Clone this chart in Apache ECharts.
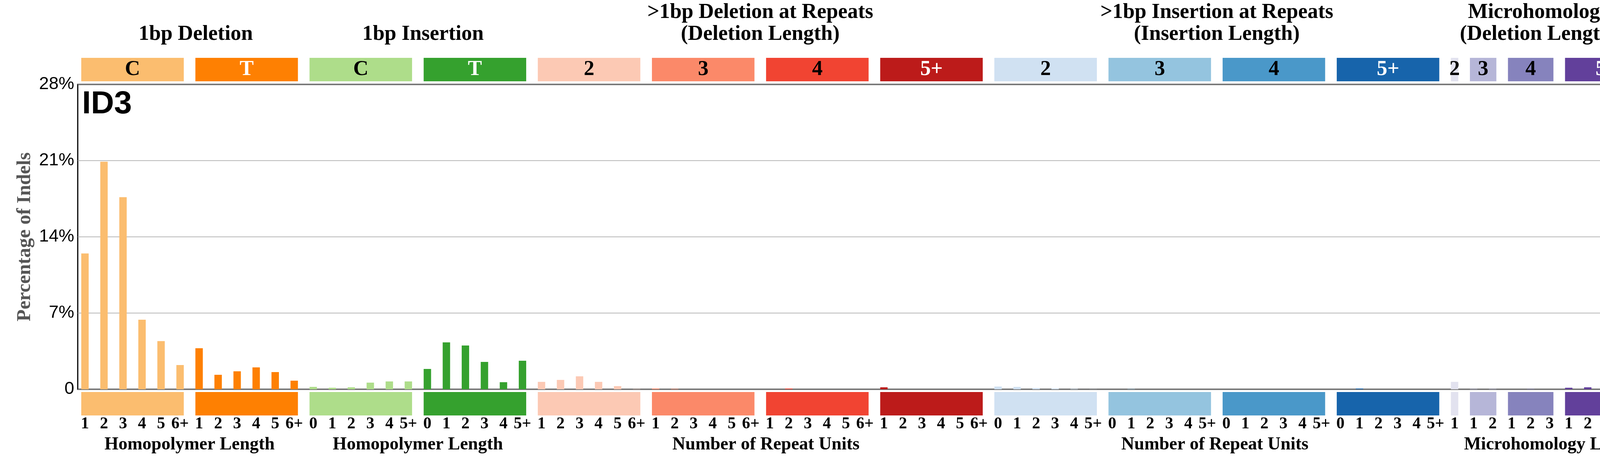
<!DOCTYPE html>
<html>
<head>
<meta charset="utf-8">
<script src="https://cdn.jsdelivr.net/npm/echarts@6/dist/echarts.min.js"></script>
<style>
html, body { margin: 0; padding: 0; background: #fff; }
#main { width: 4393px; height: 1200px; }
</style>
</head>
<body>
<div id="main"></div>
<script>
// ID3 indel profile, percent of indels per channel
var del1C = [12.47, 20.90, 17.64, 6.39, 4.42, 2.23];
var del1T = [3.77, 1.33, 1.65, 2.01, 1.58, 0.79];
var ins1C = [0.22, 0.14, 0.18, 0.61, 0.72, 0.72];
var ins1T = [1.87, 4.31, 4.02, 2.51, 0.65, 2.62];
var delRep2 = [0.68, 0.86, 1.19, 0.68, 0.29, 0.02];
var delRep3 = [0.07, 0.04, 0, 0, 0, 0];
var delRep4 = [0, 0.07, 0, 0, 0, 0];
var delRep5 = [0.18, 0, 0, 0, 0, 0];
var insRep2 = [0.25, 0.22, 0.11, 0.07, 0.04, 0.01];
var insRep3 = [0, 0.03, 0, 0, 0, 0];
var insRep4 = [0, 0, 0, 0, 0, 0];
var insRep5 = [0, 0.07, 0, 0, 0, 0];
var mh2 = [0.68];
var mh3 = [0.03, 0.03];
var mh4 = [0, 0.03, 0];
var mh5 = [0.14, 0.18, 0.07, 0.07, 0.04];

// tick labels
var hpDelTicks = ['1', '2', '3', '4', '5', '6+'];
var hpInsTicks = ['0', '1', '2', '3', '4', '5+'];
var mh2Ticks = ['1'];
var mh3Ticks = ['1', '2'];
var mh4Ticks = ['1', '2', '3'];
var mh5Ticks = ['1', '2', '3', '4', '5+'];
var yTicks = [0, 7, 14, 21, 28];

var subLabels = ['C', 'T', 'C', 'T', '2', '3', '4', '5+', '2', '3', '4', '5+', '2', '3', '4', '5+'];
var subValues = [del1C, del1T, ins1C, ins1T, delRep2, delRep3, delRep4, delRep5,
                 insRep2, insRep3, insRep4, insRep5, mh2, mh3, mh4, mh5];
var subTicks = [hpDelTicks, hpDelTicks, hpInsTicks, hpInsTicks,
                hpDelTicks, hpDelTicks, hpDelTicks, hpDelTicks,
                hpInsTicks, hpInsTicks, hpInsTicks, hpInsTicks,
                mh2Ticks, mh3Ticks, mh4Ticks, mh5Ticks];

var sectionTitles = ['1bp Deletion', '1bp Insertion', '>1bp Deletion at Repeats\n(Deletion Length)',
                     '>1bp Insertion at Repeats\n(Insertion Length)', 'Microhomology\n(Deletion Length)'];
var sectionAxisNames = ['Homopolymer Length', 'Homopolymer Length', 'Number of Repeat Units',
                        'Number of Repeat Units', 'Microhomology Length'];
var sectionSizes = [2, 2, 4, 4, 4];

// styles
var subColors = ['#FBBD6F', '#FE8002', '#AEDD8A', '#35A12E',
                 '#FCC9B4', '#FB8969', '#F14432', '#BC1B1A',
                 '#D0E1F2', '#94C4DF', '#4A98C9', '#1764AB',
                 '#E2E2EF', '#B6B6D8', '#8683BD', '#62409B'];
var subTextColors = ['#000', '#fff', '#000', '#fff',
                     '#000', '#000', '#000', '#fff',
                     '#000', '#000', '#000', '#fff',
                     '#000', '#000', '#000', '#fff'];
// small nudges of the section texts, in channel widths
var titleShift = [0.32, 0.27, 0, 0, -0.55];
var axisNameShift = [0, 0, 0.3, -0.1, 0.25];
var SERIF = '"Liberation Serif", "Times New Roman", serif';
var SANS = '"Liberation Sans", Arial, sans-serif';

// flatten
var channels = [];
var groups = [];
subValues.forEach(function (vals, g) {
    var start = channels.length;
    vals.forEach(function (v, j) {
        channels.push({ x: channels.length, v: v, color: subColors[g], tick: subTicks[g][j] });
    });
    groups.push({ start: start, end: channels.length - 1, label: subLabels[g],
                  color: subColors[g], textColor: subTextColors[g] });
});
var sections = [];
var gi = 0;
sectionSizes.forEach(function (n, s) {
    sections.push({ start: groups[gi].start, end: groups[gi + n - 1].end,
                    title: sectionTitles[s], axisName: sectionAxisNames[s] });
    gi += n;
});

var GRID = { left: 199, top: 216, width: 4040, height: 780 };
var X_MIN = -0.38, X_MAX = channels.length - 1 + 0.58;
var SLOT = GRID.width / (X_MAX - X_MIN);
var BAR_W = SLOT * 0.39;

var chart = echarts.init(document.getElementById('main'));
var option = {
    animation: false,
    backgroundColor: '#fff',
    grid: { left: GRID.left, top: GRID.top, width: GRID.width, height: GRID.height,
            show: true, borderColor: '#000', borderWidth: 3, backgroundColor: 'transparent' },
    xAxis: {
        type: 'value', min: X_MIN, max: X_MAX,
        axisLine: { show: false }, axisTick: { show: false },
        axisLabel: { show: false }, splitLine: { show: false }
    },
    yAxis: {
        type: 'value', min: yTicks[0], max: yTicks[yTicks.length - 1], interval: 7,
        name: 'Percentage of Indels', nameLocation: 'middle', nameGap: 100,
        nameTextStyle: { fontFamily: SERIF, fontWeight: 'bold', fontSize: 50, color: '#555' },
        axisLine: { show: false }, axisTick: { show: false },
        axisLabel: {
            fontFamily: SANS, fontSize: 45, color: '#000', margin: 9,
            formatter: function (v) { return v === 0 ? '0' : v + '%'; }
        },
        splitLine: { lineStyle: { color: '#a0a0a0', width: 1.5 } }
    },
    graphic: [{
        type: 'text', left: 210, top: 226, z: 10,
        style: { text: 'ID3', fontFamily: SANS, fontWeight: 'bold', fontSize: 82, fill: '#000' }
    }],
    series: [
        {
            type: 'bar', barWidth: BAR_W, silent: true,
            data: channels.map(function (c) {
                return { value: [c.x, c.v], itemStyle: { color: c.color } };
            })
        },
        {
            // coloured group boxes above and below the plot
            type: 'custom', clip: false, silent: true,
            data: groups.map(function (g) { return [g.start, 0, g.end]; }),
            encode: { x: 0, y: 1 },
            renderItem: function (params, api) {
                var g = groups[params.dataIndex];
                var cs = params.coordSys;
                var x0 = api.coord([g.start, 0])[0] - BAR_W / 2;
                var x1 = api.coord([g.end, 0])[0] + BAR_W / 2;
                var top = cs.y, bottom = cs.y + cs.height;
                return { type: 'group', children: [
                    { type: 'rect', shape: { x: x0, y: top - 68, width: x1 - x0, height: 60 },
                      style: { fill: g.color } },
                    { type: 'rect', shape: { x: x0, y: bottom + 7, width: x1 - x0, height: 60 },
                      style: { fill: g.color } },
                    { type: 'text', style: { text: g.label, x: (x0 + x1) / 2, y: top - 38,
                      textAlign: 'center', textVerticalAlign: 'middle',
                      fontFamily: SERIF, fontWeight: 'bold', fontSize: 54, fill: g.textColor } }
                ] };
            }
        },
        {
            // channel tick labels
            type: 'custom', clip: false, silent: true,
            data: channels.map(function (c) { return [c.x, 0]; }),
            encode: { x: 0, y: 1 },
            renderItem: function (params, api) {
                var c = channels[params.dataIndex];
                var cs = params.coordSys;
                return { type: 'text', style: { text: c.tick, x: api.coord([c.x, 0])[0],
                    y: cs.y + cs.height + 89, textAlign: 'center', textVerticalAlign: 'middle',
                    fontFamily: SERIF, fontWeight: 'bold', fontSize: 42, fill: '#000' } };
            }
        },
        {
            // section titles and axis names
            type: 'custom', clip: false, silent: true,
            data: sections.map(function (s) { return [s.start, 0, s.end]; }),
            encode: { x: 0, y: 1 },
            renderItem: function (params, api) {
                var i = params.dataIndex;
                var s = sections[i];
                var cs = params.coordSys;
                var cx = (api.coord([s.start, 0])[0] + api.coord([s.end, 0])[0]) / 2;
                var lines = s.title.split('\n');
                var kids = lines.map(function (t, k) {
                    return { type: 'text', style: { text: t, x: cx + titleShift[i] * SLOT,
                        y: cs.y - 128 - 56 * (lines.length - 1 - k),
                        textAlign: 'center', textVerticalAlign: 'middle',
                        fontFamily: SERIF, fontWeight: 'bold', fontSize: 54, fill: '#000' } };
                });
                kids.push({ type: 'text', style: { text: s.axisName, x: cx + axisNameShift[i] * SLOT,
                    y: cs.y + cs.height + 142, textAlign: 'center', textVerticalAlign: 'middle',
                    fontFamily: SERIF, fontWeight: 'bold', fontSize: 46, fill: '#000' } });
                return { type: 'group', children: kids };
            }
        }
    ]
};
chart.setOption(option);
</script>
</body>
</html>
